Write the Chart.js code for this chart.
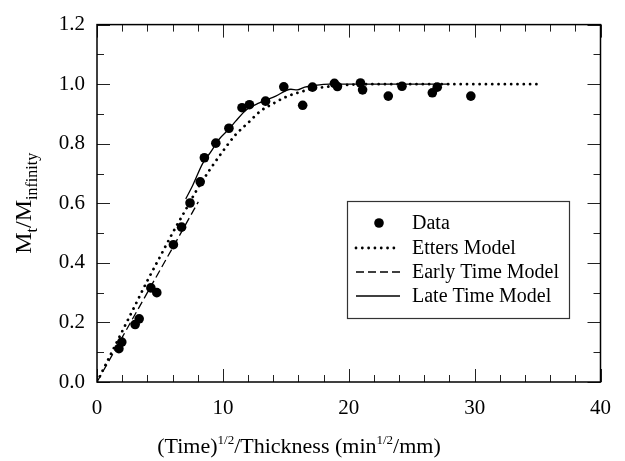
<!DOCTYPE html>
<html>
<head>
<meta charset="utf-8">
<script src="https://cdn.jsdelivr.net/npm/chart.js@4.4.1/dist/chart.umd.min.js"></script>
<style>
  html, body { margin: 0; padding: 0; background: #fff; }
  #wrap { width: 625px; height: 461px; }
</style>
</head>
<body>
<div id="wrap"><canvas id="chart" width="625" height="461"></canvas></div>
<script>
// measured sorption data, (time)^1/2 / thickness vs Mt/Minf
const DATA_X = [1.74, 1.97, 3.03, 3.35, 4.28, 4.75, 6.07, 6.72, 7.39, 8.2, 8.53, 9.44, 10.48, 11.52, 12.11, 13.39, 14.84, 16.34, 17.12, 18.86, 19.1, 20.93, 21.1, 23.14, 24.23, 26.64, 27.03, 29.7];
const DATA_Y = [0.112, 0.134, 0.193, 0.212, 0.316, 0.30, 0.461, 0.52, 0.601, 0.672, 0.753, 0.802, 0.852, 0.921, 0.931, 0.943, 0.991, 0.929, 0.99, 1.003, 0.992, 1.004, 0.981, 0.96, 0.993, 0.971, 0.99, 0.96];

const ETTERS_X = [0, 1, 2, 3, 4, 5, 6, 7, 8, 9, 10, 11, 12, 13, 14, 15, 16, 17, 18, 19, 20, 22, 35];
const ETTERS_Y = [0, 0.085, 0.17, 0.255, 0.34, 0.42, 0.5, 0.575, 0.65, 0.715, 0.775, 0.83, 0.87, 0.91, 0.935, 0.957, 0.972, 0.983, 0.99, 0.995, 0.998, 1.0, 1.0];

const EARLY_X = [0, 2, 4, 6, 8.05];
const EARLY_Y = [0, 0.15, 0.30, 0.45, 0.605];

const LATE_X = [7.05, 7.6, 8.4, 9.0, 9.7, 10.5, 11.0, 11.9, 12.9, 14.2, 15.4, 15.9, 16.5, 17.2, 18.5, 28];
const LATE_Y = [0.615, 0.66, 0.734, 0.77, 0.815, 0.85, 0.875, 0.915, 0.937, 0.96, 0.983, 0.981, 0.99, 0.995, 1.0, 1.0];

const LABELS = ['Data', 'Etters Model', 'Early Time Model', 'Late Time Model'];

const FONT = "'Liberation Serif', 'Times New Roman', serif";
const pts = (xs, ys) => xs.map((x, i) => ({ x, y: ys[i] }));

// inward tick marks + box frame
const frame = {
  id: 'frame',
  beforeDatasetsDraw(chart) {
    const { ctx, chartArea: a, scales: { x, y } } = chart;
    ctx.save();
    ctx.strokeStyle = '#222';
    ctx.lineWidth = 1;
    ctx.beginPath();
    for (let v = 0; v <= 40; v += 2) {
      const px = Math.round(x.getPixelForValue(v)) + 0.5;
      const len = v % 10 === 0 ? 13 : 7;
      ctx.moveTo(px, a.bottom); ctx.lineTo(px, a.bottom - len);
      ctx.moveTo(px, a.top); ctx.lineTo(px, a.top + len);
    }
    for (let i = 0; i <= 12; i++) {
      const py = Math.round(y.getPixelForValue(i / 10)) + 0.5;
      const len = i % 2 === 0 ? 13 : 7;
      ctx.moveTo(a.left, py); ctx.lineTo(a.left + len, py);
      ctx.moveTo(a.right, py); ctx.lineTo(a.right - len, py);
    }
    ctx.stroke();
    ctx.strokeStyle = '#000';
    ctx.lineWidth = 1.5;
    ctx.strokeRect(a.left, a.top, a.right - a.left, a.bottom - a.top);
    ctx.restore();
  }
};

// axis titles with super/subscripts
function runs(ctx, parts, x0, y0, draw) {
  let x = x0;
  parts.forEach(([text, size, shift]) => {
    ctx.font = size + 'px ' + FONT;
    if (draw) ctx.fillText(text, x, y0 + shift);
    x += ctx.measureText(text).width;
  });
  return x - x0;
}

const titles = {
  id: 'titles',
  afterDraw(chart) {
    const { ctx, chartArea: a } = chart;
    ctx.save();
    ctx.fillStyle = '#000';
    ctx.textBaseline = 'alphabetic';
    ctx.textAlign = 'left';
    const xParts = [['(Time)', 22, 0], ['1/2', 13, -9], ['/Thickness (min', 22, 0], ['1/2', 13, -9], ['/mm)', 22, 0]];
    const w = runs(ctx, xParts, 0, 0, false);
    runs(ctx, xParts, 299 - w / 2, 453, true);

    const yParts = [['M', 24, 0], ['t', 16, 6], ['/M', 24, 0], ['infinity', 16, 6]];
    const h = runs(ctx, yParts, 0, 0, false);
    ctx.translate(31, (a.top + a.bottom) / 2);
    ctx.rotate(-Math.PI / 2);
    runs(ctx, yParts, -h / 2, 0, true);
    ctx.restore();
  }
};

// boxed legend inside the plot
const boxLegend = {
  id: 'boxLegend',
  afterDraw(chart) {
    const { ctx } = chart;
    const sets = chart.data.datasets;
    ctx.save();
    ctx.fillStyle = '#fff';
    ctx.fillRect(347, 201, 222, 117);
    ctx.strokeStyle = '#333';
    ctx.lineWidth = 1.2;
    ctx.strokeRect(347.5, 201.5, 222, 117);
    const rows = [223, 248, 272, 296];
    sets.forEach((ds, i) => {
      const cy = rows[i];
      if (!ds.showLine) {
        ctx.fillStyle = '#000';
        ctx.beginPath();
        ctx.arc(379, cy, ds.pointRadius, 0, Math.PI * 2);
        ctx.fill();
      } else {
        ctx.strokeStyle = '#000';
        ctx.lineWidth = ds.borderWidth;
        ctx.lineCap = ds.borderCapStyle || 'butt';
        ctx.setLineDash(ds.borderDash || []);
        ctx.beginPath();
        ctx.moveTo(356, cy);
        ctx.lineTo(400, cy);
        ctx.stroke();
        ctx.setLineDash([]);
        ctx.lineCap = 'butt';
      }
      ctx.fillStyle = '#000';
      ctx.font = '20px ' + FONT;
      ctx.textBaseline = 'middle';
      ctx.fillText(ds.label, 412, cy + 1);
    });
    ctx.restore();
  }
};

new Chart(document.getElementById('chart'), {
  type: 'scatter',
  data: {
    datasets: [
      {
        label: LABELS[0],
        data: pts(DATA_X, DATA_Y),
        showLine: false,
        pointRadius: 4.8,
        pointBackgroundColor: '#000',
        pointBorderWidth: 0,
      },
      {
        label: LABELS[1],
        data: pts(ETTERS_X, ETTERS_Y),
        showLine: true,
        pointRadius: 0,
        borderColor: '#000',
        borderWidth: 2.8,
        borderDash: [0.01, 6.3],
        borderCapStyle: 'round',
        cubicInterpolationMode: 'monotone',
      },
      {
        label: LABELS[2],
        data: pts(EARLY_X, EARLY_Y),
        showLine: true,
        pointRadius: 0,
        borderColor: '#000',
        borderWidth: 1.3,
        borderDash: [8, 4],
      },
      {
        label: LABELS[3],
        data: pts(LATE_X, LATE_Y),
        showLine: true,
        pointRadius: 0,
        borderColor: '#000',
        borderWidth: 1.3,
        cubicInterpolationMode: 'monotone',
      },
    ],
  },
  options: {
    responsive: false,
    animation: false,
    layout: { padding: { top: 22, right: 14, left: 0, bottom: 0 } },
    plugins: { legend: { display: false }, tooltip: { enabled: false } },
    scales: {
      x: {
        type: 'linear',
        min: 0,
        max: 40,
        grid: { display: false, drawTicks: false },
        border: { display: false },
        ticks: { stepSize: 10, color: '#000', padding: 14, font: { family: FONT, size: 21 } },
        afterFit(s) { s.height = 461 - 382; },
      },
      y: {
        min: 0,
        max: 1.2,
        grid: { display: false, drawTicks: false },
        border: { display: false },
        ticks: {
          stepSize: 0.2,
          color: '#000',
          padding: 12,
          font: { family: FONT, size: 21 },
          callback: (v) => v.toFixed(1),
        },
        afterFit(s) { s.width = 97; },
      },
    },
  },
  plugins: [frame, titles, boxLegend],
});
</script>
</body>
</html>
